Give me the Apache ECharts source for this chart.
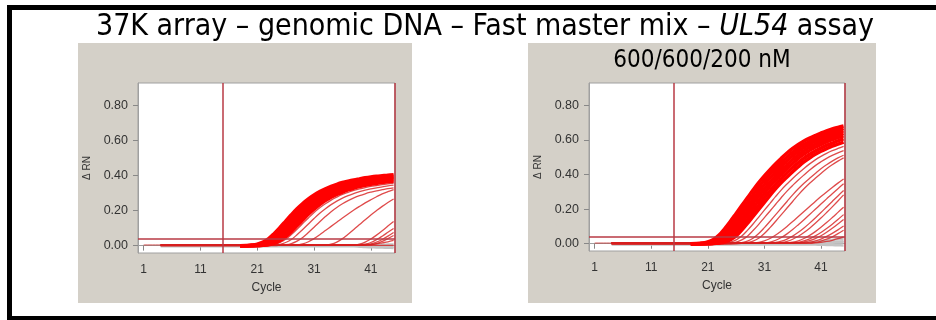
<!DOCTYPE html>
<html><head><meta charset="utf-8">
<script src="https://cdn.jsdelivr.net/npm/echarts@6/dist/echarts.min.js"></script>
<style>html,body{margin:0;padding:0;background:#fff}#c{width:936px;height:320px}</style>
</head><body><div id="c"></div>
<script>
// ---- data ----
const cycles = [4,18,19,20,21,22,23,24,25,26,27,28,29,30,31,32,33,34,35,36,37,38,39,40,41,42,43,44,45];
const earlyCycles = [1, 18];
const earlyBase = [0.004, 0.004];
const xTicks = [1, 11, 21, 31, 41];
const yTicks = [0, 0.2, 0.4, 0.6, 0.8];
const threshold = 0.038;
const startLine = 15;
const endLine = 45.2;
const titleText = '37K array – genomic DNA – Fast master mix – ';
const titleItalic = 'UL54';
const titleEnd = ' assay';
const subtitle = '600/600/200 nM';

// panel 1 (left) main bundle (first entry null: baseline drawn by the other wells)
const b1_1 = [null, 0,.001,.003,.008,.02,.04,.07,.104,.14,.176,.21,.24,.266,.289,.308,.324,.338,.35,.36,.368,.375,.381,.387,.392,.396,.399,.402,.404];
const b1_2 = [null, 0,0,.002,.005,.014,.030,.054,.086,.120,.156,.190,.222,.249,.273,.294,.311,.326,.339,.350,.359,.366,.372,.378,.384,.388,.392,.394,.397];
const b1_3 = [null, 0,0,.001,.003,.008,.019,.039,.068,.101,.136,.171,.204,.233,.258,.280,.299,.314,.328,.340,.349,.357,.364,.370,.375,.380,.384,.387,.390];
const b1_4 = [null, 0,0,0,.002,.005,.013,.029,.053,.083,.117,.151,.184,.215,.242,.265,.285,.302,.316,.329,.339,.348,.355,.361,.367,.372,.376,.380,.382];
const b1_5 = [null, 0,0,0,.001,.003,.008,.019,.038,.066,.098,.132,.165,.197,.226,.250,.272,.290,.305,.318,.329,.338,.346,.353,.358,.364,.368,.372,.375];
const b1_6 = [null, 0,0,0,0,.002,.005,.013,.028,.051,.080,.113,.146,.179,.208,.234,.257,.276,.292,.306,.318,.328,.337,.344,.350,.355,.360,.364,.368];
// panel 1 late / weak curves
const o1_1 = [0, 0,0,0,0,.001,.003,.007,.018,.036,.063,.094,.126,.158,.189,.216,.239,.260,.277,.292,.304,.315,.324,.331,.338,.343,.348,.353,.356];
const o1_2 = [0, 0,0,0,0,0,.001,.003,.007,.018,.035,.062,.092,.123,.155,.185,.211,.234,.254,.271,.285,.297,.308,.317,.324,.330,.335,.341,.345];
const o1_3 = [0, 0,0,0,0,0,0,0,.002,.005,.012,.026,.047,.075,.105,.136,.166,.194,.218,.239,.257,.272,.285,.296,.305,.313,.319,.325,.330];
const o1_4 = [.004, .004,.004,.004,.004,.004,.004,.004,.004,.004,.004,.004, .01,.022,.04,.062,.086,.11,.134,.158,.181,.203,.224,.244,.262,.279,.295,.308,.32];
const o1_5 = [.003, .003,.003,.003,.003,.003,.003,.003,.003,.003,.003,.003,.003,.003,.003,.003,.003, .008,.02,.04,.065,.092,.12,.148,.175,.2,.224,.246,.266];
const o1_6 = [.003, .003,.003,.003,.003,.003,.003,.003,.003,.003,.003,.003,.003,.003,.003,.003,.003,.003,.003,.003,.003,.003, .008,.02,.038,.06,.085,.112,.138];
const o1_7 = [.004, .004,.004,.004,.004,.004,.004,.004,.004,.004,.004,.004,.004,.004,.004,.004,.004,.004,.004,.004,.004,.004,.004, .008,.018,.034,.054,.076,.098];
const o1_8 = [.005, .005,.005,.005,.005,.005,.005,.005,.005,.005,.005,.005,.005,.005,.005,.005,.005,.005,.005,.005,.005,.005,.005,.005, .01,.02,.035,.054,.075];
const o1_9 = [.006, .006,.006,.006,.006,.006,.006,.006,.006,.006,.006,.006,.006,.006,.006,.006,.006,.006,.006,.006,.006,.006,.006,.006,.006, .012,.024,.04,.058];
const o1_10 = [.002, .002,.002,.002,.002,.002,.002,.002,.002,.002,.002,.002,.002,.002,.002,.002,.002,.002,.002,.002,.002,.002,.002,.002, .005,.01,.016,.022,.03];
const o1_11 = [.001, .001,.001,.001,.001,.001,.001,.001,.001,.001,.001,.001,.001,.001,.001,.001,.001,.001,.001,.001,.001,.001,.001,.001,.001,.001,.001,.001,.001];
// panel 1 negative controls (grey)
const g1_1 = [0, 0,0,0,0,0,0,0,0,0,0,0,0,0,0,0,0,0,0,0,0,0, -.001,-.002,-.003,-.004,-.005,-.006,-.007];
const g1_2 = [-.004, -.004,-.004,-.004,-.004,-.004,-.004,-.004,-.004,-.004,-.004,-.004,-.004,-.004,-.004,-.004,-.004,-.004,-.004,-.004,-.004,-.004, -.006,-.008,-.009,-.01,-.011,-.012,-.013];
const g1_3 = [.002, .002,.002,.002,.002,.002,.002,.002,.002,.002,.002,.002,.002,.002,.002,.002,.002,.002,.002,.002,.002,.002, .003,.004,.004,.005,.005,.006,.006];

// panel 2 (right) main bundle
const p2_1 = [null, 0,.001,.004,.01,.025,.05,.088,.13,.175,.22,.265,.31,.353,.392,.428,.462,.494,.524,.55,.573,.593,.61,.625,.639,.652,.663,.672,.68];
const p2_2 = [null, 0,0,.002,.007,.017,.037,.068,.107,.150,.195,.239,.283,.327,.367,.404,.438,.471,.501,.529,.553,.574,.592,.608,.623,.636,.648,.657,.666];
const p2_3 = [null, 0,0,.001,.004,.010,.024,.049,.085,.126,.170,.213,.257,.301,.342,.380,.415,.448,.479,.508,.534,.556,.575,.592,.606,.620,.632,.643,.652];
const p2_4 = [null, 0,0,0,.002,.007,.017,.036,.066,.104,.146,.189,.232,.275,.317,.356,.392,.425,.456,.486,.513,.536,.557,.574,.590,.604,.616,.628,.637];
const p2_5 = [null, 0,0,0,.001,.004,.009,.024,.047,.083,.122,.165,.207,.249,.291,.332,.368,.402,.434,.464,.493,.517,.539,.557,.573,.588,.601,.613,.623];
const p2_6 = [null, 0,0,0,0,.002,.006,.016,.035,.063,.100,.140,.182,.223,.265,.305,.343,.377,.409,.440,.468,.494,.517,.536,.553,.568,.581,.594,.605];
const p2_7 = [null, 0,0,0,0,.001,.004,.009,.023,.045,.079,.117,.158,.198,.239,.279,.318,.353,.385,.416,.445,.472,.495,.516,.534,.549,.563,.575,.587];
// panel 2 late / weak curves
const q1 = [0, 0,0,0,0,0,.001,.004,.009,.022,.044,.077,.114,.154,.194,.233,.273,.311,.345,.377,.407,.435,.461,.484,.504,.522,.537,.550,.562];
const q2 = [0, 0,0,0,0,0,0,.001,.003,.009,.022,.043,.076,.112,.151,.189,.228,.267,.304,.337,.368,.397,.425,.451,.473,.493,.510,.525,.538];
const q3 = [0, 0,0,0,0,0,0,0,0,.002,.006,.015,.032,.059,.093,.130,.168,.206,.244,.282,.317,.349,.378,.406,.433,.456,.477,.496,.511];
const q4 = [0, 0,0,0,0,0,0,0,0,0,.002,.006,.015,.032,.059,.093,.13,.168,.206,.244,.282,.317,.349,.378,.406,.433,.456,.477,.496];
const q5 = [.004, .004,.004,.004,.004,.004,.004,.004,.004,.004,.004,.004,.004, .008,.016,.03,.05,.074,.1,.128,.157,.186,.215,.244,.272,.299,.325,.35,.374];
const q6 = [.004, .004,.004,.004,.004,.004,.004,.004,.004,.004,.004,.004,.004,.004,.004, .009,.02,.036,.057,.082,.11,.139,.169,.199,.229,.259,.289,.318,.346];
const q7 = [.005, .005,.005,.005,.005,.005,.005,.005,.005,.005,.005,.005,.005,.005,.005,.005, .008,.015,.027,.044,.066,.091,.119,.149,.18,.212,.244,.276,.307];
const q8 = [.004, .004,.004,.004,.004,.004,.004,.004,.004,.004,.004,.004,.004,.004,.004,.004,.004, .007,.014,.026,.043,.065,.09,.118,.148,.18,.213,.247,.282];
const q9 = [.005, .005,.005,.005,.005,.005,.005,.005,.005,.005,.005,.005,.005,.005,.005,.005,.005,.005,.005, .009,.017,.03,.048,.07,.095,.122,.151,.181,.211];
const q10 = [.004, .004,.004,.004,.004,.004,.004,.004,.004,.004,.004,.004,.004,.004,.004,.004,.004,.004,.004,.004, .008,.016,.028,.045,.065,.088,.113,.14,.168];
const q11 = [.006, .006,.006,.006,.006,.006,.006,.006,.006,.006,.006,.006,.006,.006,.006,.006,.006,.006,.006,.006,.006, .01,.018,.03,.046,.066,.089,.114,.14];
const q12 = [.005, .005,.005,.005,.005,.005,.005,.005,.005,.005,.005,.005,.005,.005,.005,.005,.005,.005,.005,.005,.005,.005, .009,.016,.027,.042,.06,.08,.102];
const q13 = [.004, .004,.004,.004,.004,.004,.004,.004,.004,.004,.004,.004,.004,.004,.004,.004,.004,.004,.004,.004,.004,.004,.004, .008,.015,.026,.04,.058,.078];
const q14 = [.003, .003,.003,.003,.003,.003,.003,.003,.003,.003,.003,.003,.003,.003,.003,.003,.003,.003,.003,.003,.003,.003,.003, .005,.008,.013,.02,.029,.04];
// panel 2 negative controls (grey)
const g2_1 = [.003, .003,.003,.003,.003,.003,.003,.003,.003,.003,.003,.003,.003,.003,.003,.003,.003,.003,.003,.003,.003,.003, .006,.01,.014,.018,.022,.026,.03];
const g2_2 = [0, 0,0,0,0,0,0,0,0,0,0,0,0,0,0,0,0,0,0,0,0,0, .002,.004,.006,.008,.01,.012,.015];
const g2_3 = [-.004, -.004,-.004,-.004,-.004,-.004,-.004,-.004,-.004,-.004,-.004,-.004,-.004,-.004,-.004,-.004,-.004,-.004,-.004,-.004,-.004,-.004, -.004,-.005,-.006,-.007,-.008,-.009,-.01];
const g2_4 = [.001, .001,.001,.001,.001,.001,.001,.001,.001,.001,.001,.001,.001,.001,.001,.001,.001,.001,.001,.001,.001,.001, .002,.003,.004,.005,.006,.007,.008];

const panel1 = {grey:[g1_1,g1_2,g1_3], weak:[o1_1,o1_2,o1_3,o1_4,o1_5,o1_6,o1_7,o1_8,o1_9,o1_10,o1_11], bundle:[b1_1,b1_2,b1_3,b1_4,b1_5,b1_6]};
const panel2 = {grey:[g2_1,g2_2,g2_3,g2_4], weak:[q1,q2,q3,q4,q5,q6,q7,q8,q9,q10,q11,q12,q13,q14], bundle:[p2_1,p2_2,p2_3,p2_4,p2_5,p2_6,p2_7]};

// ---- chart ----
const chart = echarts.init(document.getElementById('c'), null, {renderer:'canvas'});
const FONT = 'Liberation Sans, Arial, sans-serif';
const TFONT = '"DejaVu Sans Condensed", "DejaVu Sans", sans-serif';

function mkLine(arr, idx, color, width, z, xs) {
  const xv = xs || cycles;
  return {type:'line', xAxisIndex:idx, yAxisIndex:idx, data: xv.map((c,i)=>[c, arr[i] === null ? '-' : arr[i]]),
    symbol:'none', smooth:0.35, lineStyle:{color:color, width:width}, z:z, silent:true, clip:true};
}
const series = [];
[panel1, panel2].forEach((p, idx) => {
  p.grey.forEach(a => series.push(mkLine(a, idx, '#c4c4c4', 2.5, 2)));
  series.push(mkLine(earlyBase, idx, 'rgba(200,40,40,0.8)', 1, 3, earlyCycles));
  p.weak.forEach(a => series.push(mkLine(a, idx, 'rgba(215,30,30,0.8)', 1.3, 3)));
  p.bundle.forEach(a => series.push(mkLine(a, idx, '#ff0000', 3.5, 4)));
  series.push({type:'line', xAxisIndex:idx, yAxisIndex:idx, data:[], z:5, silent:true,
    markLine:{silent:true, symbol:'none', animation:false, label:{show:false},
      lineStyle:{color:'#b83a44', width:1.5, type:'solid'},
      data:[{yAxis:threshold},{xAxis:startLine},{xAxis:endLine}]}});
});

function xAx(idx){ return {type:'value', gridIndex:idx, min:0, max:45.25,
  axisLine:{show:true, lineStyle:{color:'#a0a0a0'}},
  axisTick:{show:true, customValues:xTicks, length:5, lineStyle:{color:'#888'}},
  axisLabel:{customValues:xTicks, margin:11, fontSize:12, color:'#333', fontFamily:FONT},
  splitLine:{show:false}, name:'Cycle', nameLocation:'middle', nameGap:29,
  nameTextStyle:{fontSize:12, color:'#333', fontFamily:FONT}}; }
function yAx(idx){ return {type:'value', gridIndex:idx, min:-0.042, max:0.928,
  axisLine:{show:true, lineStyle:{color:'#a0a0a0'}},
  axisTick:{show:true, customValues:yTicks, length:5, lineStyle:{color:'#888'}},
  axisLabel:{customValues:yTicks, margin:10, fontSize:12.5, color:'#333', fontFamily:FONT, formatter:v=>v.toFixed(2)},
  splitLine:{show:false}, name:'Δ RN', nameLocation:'middle', nameGap:46, nameRotate:90,
  nameTextStyle:{fontSize:10, color:'#333', fontFamily:FONT}}; }

chart.setOption({
  animation:false,
  backgroundColor:'#fff',
  grid:[
    {left:138, top:83, width:257, height:170, show:true, backgroundColor:'#fff', borderColor:'#a0a0a0', borderWidth:1},
    {left:589, top:83, width:256, height:168, show:true, backgroundColor:'#fff', borderColor:'#a0a0a0', borderWidth:1}
  ],
  xAxis:[xAx(0), xAx(1)],
  yAxis:[yAx(0), yAx(1)],
  graphic:[
    {type:'rect', z:-10, silent:true, shape:{x:78, y:43, width:334, height:260}, style:{fill:'#d4d0c8'}},
    {type:'rect', z:-10, silent:true, shape:{x:528, y:43, width:348, height:260}, style:{fill:'#d4d0c8'}},
    {type:'rect', z:-9, silent:true, shape:{x:9.5, y:7.5, width:945, height:311}, style:{fill:'none', stroke:'#000', lineWidth:5}},
    {type:'text', z:10, silent:true, x:485, y:27, style:{
      text:'{n|'+titleText+'}{i|'+titleItalic+'}{n|'+titleEnd+'}', align:'center', verticalAlign:'middle',
      rich:{n:{fontSize:30, fontFamily:TFONT, fill:'#000'}, i:{fontSize:30, fontFamily:TFONT, fontStyle:'italic', fill:'#000'}}}},
    {type:'text', z:10, silent:true, x:702, y:61, style:{text:subtitle, align:'center', verticalAlign:'middle',
      fontSize:24, fontFamily:TFONT, fill:'#000'}}
  ],
  series: series
});
</script></body></html>
